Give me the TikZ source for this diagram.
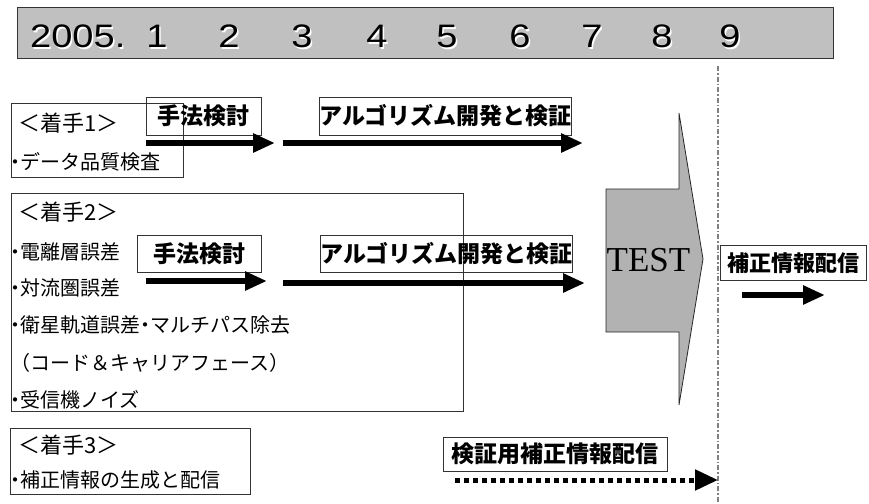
\documentclass[tikz,border=0pt]{standalone}
\usepackage{fontspec}
\setmainfont{Noto Sans CJK JP}
\newfontfamily\jp{Noto Sans CJK JP}
\newfontfamily\latf{Liberation Sans}
\newfontfamily\serf{Liberation Serif}
\usetikzlibrary{arrows.meta}
\definecolor{bargray}{HTML}{C0C0C0}
\definecolor{testgray}{HTML}{B2B2B2}
\definecolor{linegray}{HTML}{808080}
\newcommand{\widedig}[1]{\scalebox{1.17}[1]{#1}}
\newcommand{\bul}{\makebox[10pt][c]{・}}
\tikzset{
  frame/.style={draw=black!80, line width=0.9pt, inner sep=0pt},
  lbl/.style={frame, font=\jp\bfseries\fontsize{23}{23}\selectfont, text height=19pt, text depth=1.6pt},
  item/.style={anchor=west, inner sep=0pt, font=\jp\fontsize{20}{20}\selectfont, text height=16.6pt, text depth=1.4pt},
  head/.style={anchor=west, inner sep=0pt, font=\jp\fontsize{22}{22}\selectfont, text height=18.3pt, text depth=1.5pt},
  digit/.style={inner sep=0pt, anchor=base, font=\latf\fontsize{32.5}{32.5}\selectfont},
  bigarrow/.style={line width=6pt, -{Triangle[length=22pt,width=18pt]}},
  dotarrow/.style={line width=5pt, dash pattern=on 4.5pt off 4.5pt, -{Triangle[length=23pt,width=20pt]}},
  dashline/.style={draw=linegray, line width=1.2pt, dash pattern=on 5pt off 2pt on 1.5pt off 2pt}
}
\begin{document}
\begin{tikzpicture}[x=1pt,y=-1pt]
\useasboundingbox (0,0) rectangle (869,503);
% timeline bar
\node[frame, fill=bargray, minimum width=816pt, minimum height=51pt] (bar) at (425,32.5) {};
\foreach \t/\xx [count=\i] in {1/157,2/229,3/302,4/377,5/447,6/520,7/592,8/662,9/730}{
  \node[digit, text=white] at (\xx+1.5,49.5) {\widedig{\t}};
  \node[digit] (d\i) at (\xx,48) {\widedig{\t}};
}
\node[digit, anchor=base west, text=white] at (31.5,49.5) {\widedig{2005.}};
\node[digit, anchor=base west] (year) at (30,48) {\widedig{2005.}};
% dash-dot separator
\coordinate (sepTop) at (718,66);
\coordinate (sepBot) at (718,503);
\draw[dashline] (sepTop) -- (sepBot);
% group 1
\node[frame, minimum width=172pt, minimum height=74pt] (k1) at (97,140) {};
\node[head] (k1h) at (18,123) {＜着手1＞};
\node[item] (k1a) at (10,162) {\bul データ品質検査};
\node[lbl, minimum width=115pt, minimum height=38pt] (m1) at (203.5,116) {手法検討};
\node[lbl, minimum width=251pt, minimum height=38pt] (a1) at (445.5,116) {アルゴリズム開発と検証};
\coordinate (p1s) at (146,143); \coordinate (p1e) at (275,143);
\coordinate (p2s) at (283,143); \coordinate (p2e) at (583,143);
\draw[bigarrow] (p1s) -- (p1e);
\draw[bigarrow] (p2s) -- (p2e);
% group 2
\node[frame, minimum width=452pt, minimum height=218pt] (k2) at (237,302) {};
\node[head] (k2h) at (18,212) {＜着手2＞};
\node[item] (k2a) at (10,252) {\bul 電離層誤差};
\node[item] (k2b) at (10,288) {\bul 対流圏誤差};
\node[item] (k2c) at (10,325) {\bul 衛星軌道誤差\bul マルチパス除去};
\node[item] (k2d) at (10,363) {（コード＆キャリアフェース）};
\node[item] (k2e) at (10,400) {\bul 受信機ノイズ};
\node[lbl, minimum width=124pt, minimum height=37pt] (m2) at (199,253.5) {手法検討};
\node[lbl, minimum width=251pt, minimum height=37pt] (a2) at (446.5,253.5) {アルゴリズム開発と検証};
\coordinate (q1s) at (146,281); \coordinate (q1e) at (267,281);
\coordinate (q2s) at (283,283); \coordinate (q2e) at (585,283);
\draw[bigarrow] (q1s) -- (q1e);
\draw[bigarrow] (q2s) -- (q2e);
% TEST block arrow
\draw[fill=testgray, draw=black!85, line width=0.8pt]
  (606,189) -- (679,189) -- (679,113) -- (703,259) -- (679,405) -- (679,332) -- (606,332) -- cycle;
\node[inner sep=0pt, font=\serf\fontsize{35}{35}\selectfont] (test) at (648.5,260) {TEST};
% distribution
\node[lbl, font=\jp\bfseries\fontsize{22}{22}\selectfont, minimum width=146pt, minimum height=35pt] (h) at (793,262.5) {補正情報配信};
\coordinate (r1s) at (742,295); \coordinate (r1e) at (825,295);
\draw[bigarrow] (r1s) -- (r1e);
% group 3
\node[frame, minimum width=240pt, minimum height=66pt] (k3) at (130,461) {};
\node[head] (k3h) at (18,445) {＜着手3＞};
\node[item] (k3a) at (10,480) {\bul 補正情報の生成と配信};
\node[lbl, minimum width=224pt, minimum height=34pt] (v) at (555,454) {検証用補正情報配信};
\coordinate (s1s) at (455,480); \coordinate (s1e) at (718,480);
\draw[dotarrow] (s1s) -- (s1e);
\end{tikzpicture}
\end{document}
